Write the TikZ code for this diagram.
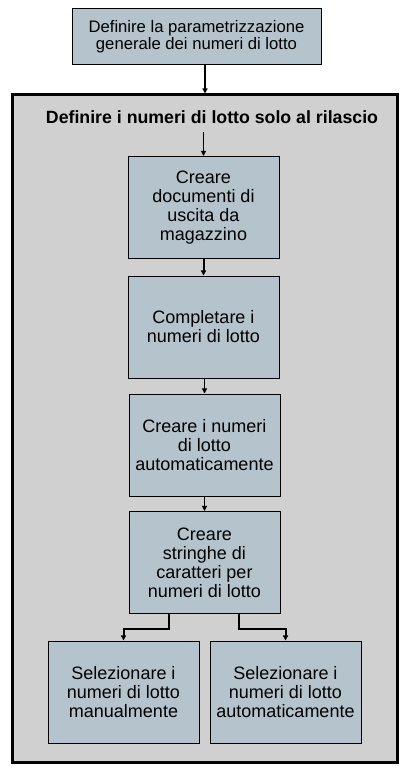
\documentclass[tikz,border=0pt]{standalone}
\usepackage{fontspec}
\setmainfont{Liberation Sans}
\usetikzlibrary{arrows.meta}
\definecolor{boxfill}{HTML}{B4C3CC}
\definecolor{outerfill}{HTML}{D0D0D0}
\tikzset{
  stepbox/.style={draw=black, line width=0.75pt, fill=boxfill, rectangle, minimum width=151*0.75pt, minimum height=102*0.75pt, inner sep=0pt, align=center, font=\fontsize{13.5}{14.2}\selectfont},
  arr/.style={-{Triangle[width=3.8pt,length=3.8pt]}, line width=0.75pt, black},
  arrthick/.style={arr, line width=1.5pt},
}
\begin{document}
\begin{tikzpicture}[x=0.75pt,y=-0.75pt]
\useasboundingbox (0,0) rectangle (410,777);
\fill[white] (0,0) rectangle (410,777);
\node[draw=black, line width=2.25pt, fill=outerfill, rectangle, minimum width=385*0.75pt, minimum height=667*0.75pt, inner sep=0pt] (outer) at (204.5,428.5) {};
\node[stepbox, minimum width=249*0.75pt, minimum height=56*0.75pt, font=\fontsize{12.5}{12.8}\selectfont] (top) at (196.5,37) {Definire la parametrizzazione\\generale dei numeri di lotto};
\node[font=\fontsize{13.3}{15}\bfseries\selectfont, inner sep=0pt] (title) at (212,117) {Definire i numeri di lotto solo al rilascio};
\node[stepbox] (b1) at (203.5,207.5) {Creare\\documenti di\\uscita da\\magazzino};
\node[stepbox] (b2) at (203.5,327) {Completare i\\numeri di lotto};
\node[stepbox] (b3) at (204.5,445) {Creare i numeri\\di lotto\\automaticamente};
\node[stepbox] (b4) at (204.5,562.5) {Creare\\stringhe di\\caratteri per\\numeri di lotto};
\node[stepbox] (bl) at (123.5,692) {Selezionare i\\numeri di lotto\\manualmente};
\node[stepbox] (br) at (285.5,692) {Selezionare i\\numeri di lotto\\automaticamente};
\coordinate (tstart) at (203.5,132);
\draw[arrthick] (top.south -| 205,0) -- (outer.north -| 205,0);
\draw[arr] (tstart) -- (b1.north);
\draw[arrthick] (b1.south) -- (b2.north);
\draw[arr] (b2.south -| b3.north) -- (b3.north);
\draw[arr] (b3.south) -- (b4.north);
\draw[arrthick] ([xshift=-35.5*0.75pt]b4.south) -- ++(0,15) -| (bl.north);
\draw[arrthick] ([xshift=34.5*0.75pt]b4.south) -- ++(0,15) -| (br.north);
\end{tikzpicture}
\end{document}
